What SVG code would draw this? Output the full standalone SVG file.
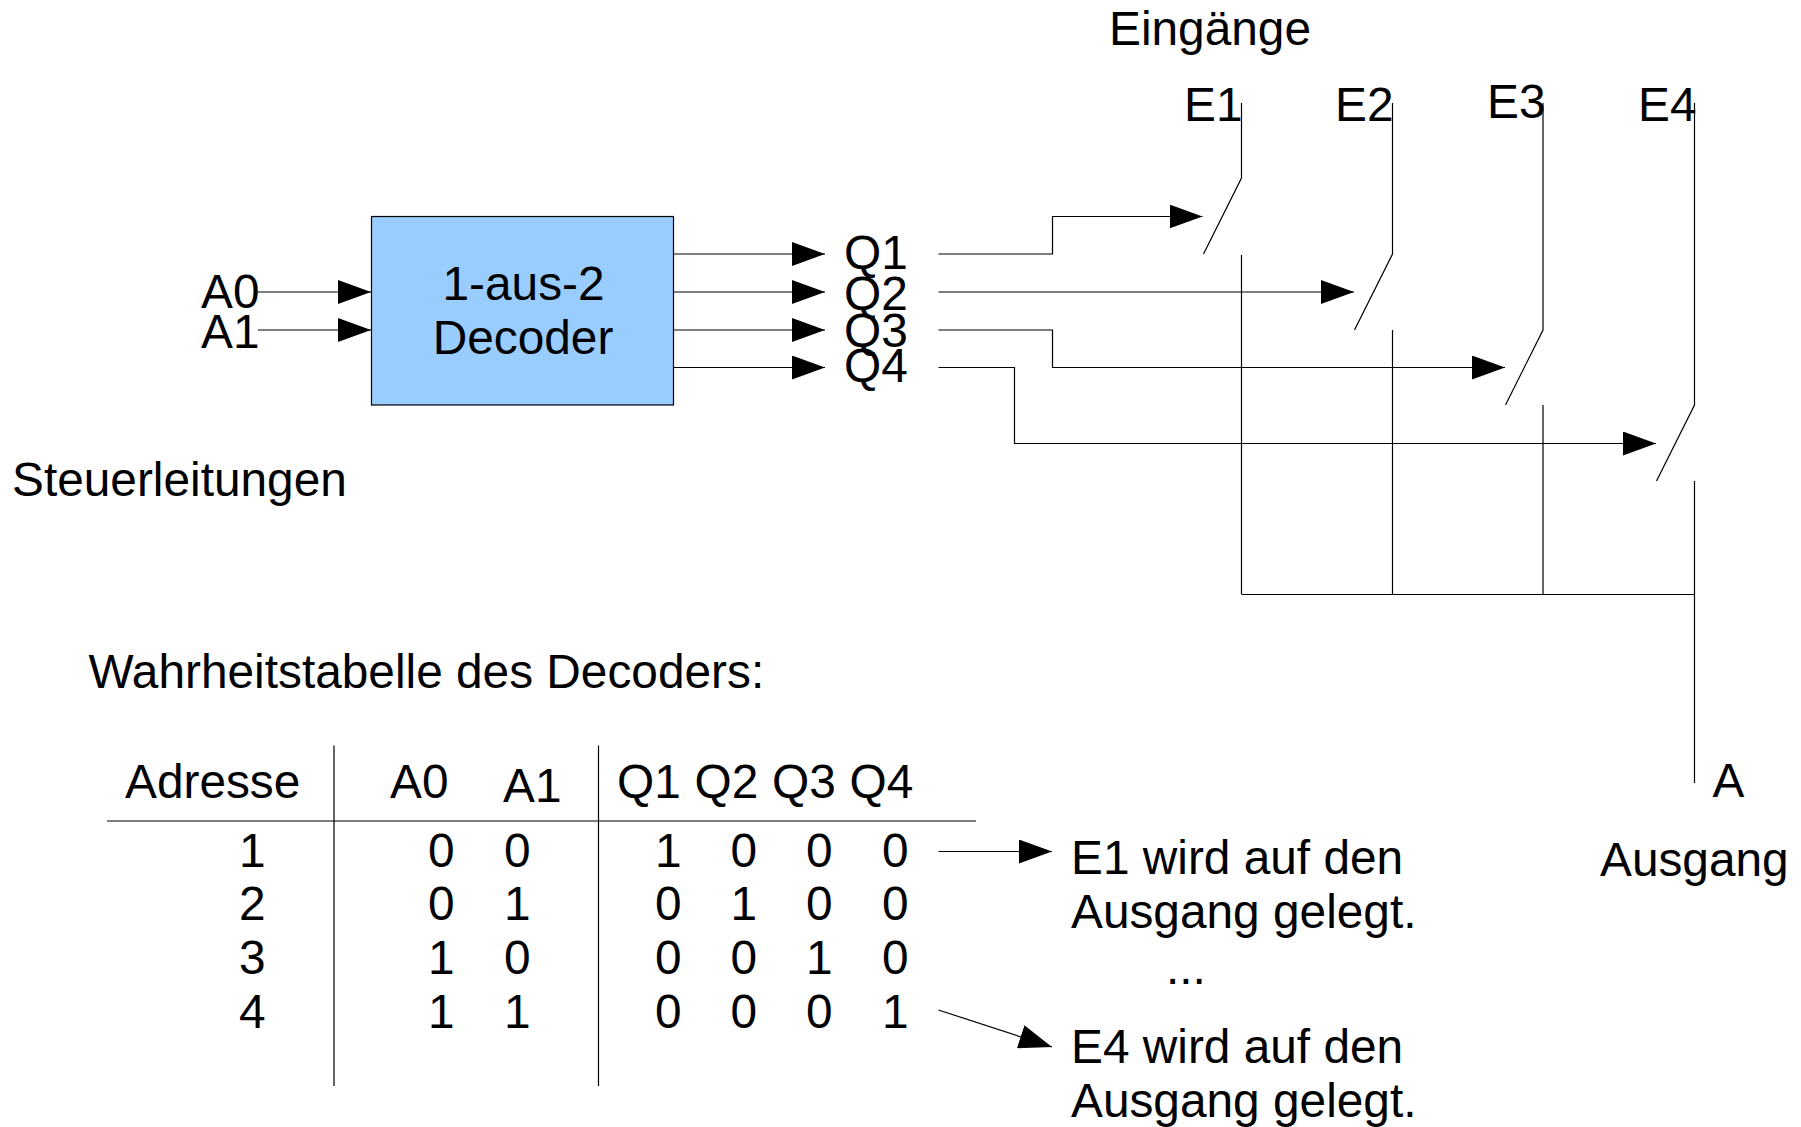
<svg xmlns="http://www.w3.org/2000/svg" width="1801" height="1127" viewBox="0 0 1801 1127">
<style>
text{font-family:"Liberation Sans",Arial,sans-serif;font-size:47.8px;fill:#000}
.m{text-anchor:middle}
.l{fill:none;stroke:#000;stroke-width:1.2}
.a{marker-end:url(#arrow)}
</style>
<defs><marker id="arrow" markerUnits="userSpaceOnUse" markerWidth="34" markerHeight="24" refX="33" refY="12" orient="auto"><path d="M0 0L33 12L0 24Z" fill="#000"/></marker></defs>
<rect width="1801" height="1127" fill="#fff"/>
<g id="connectors">
<path class="l a" d="M258 292H371"/>
<path class="l a" d="M258 330H371"/>
<path class="l a" d="M674 254H825"/>
<path class="l a" d="M674 292H825"/>
<path class="l a" d="M674 330H825"/>
<path class="l a" d="M674 367.500H825"/>
<path class="l a" d="M938.500 254H1052.500V216.500H1202.500"/>
<path class="l a" d="M938.500 292H1354"/>
<path class="l a" d="M938.500 330H1052.500V367.500H1505"/>
<path class="l a" d="M938.500 367.500H1014.500V443.500H1656"/>
<path class="l a" d="M938.500 851.500H1052"/>
<path class="l a" d="M938.500 1010L1052 1047"/>
</g>
<g id="decoder"><rect x="371.500" y="216.500" width="302" height="188.500" fill="#99ccff" stroke="#000" stroke-width="1.2"/>
<text class="m" x="523.500" y="300">1-aus-2</text><text class="m" x="523" y="354">Decoder</text></g>
<g id="switch-e1"><path class="l" d="M1241.500 103V178L1203.500 254M1241.500 255V594"/><text x="1184" y="121">E1</text></g>
<g id="switch-e2"><path class="l" d="M1392.500 103V254L1354.500 330M1392.500 330V594"/><text x="1335" y="121">E2</text></g>
<g id="switch-e3"><path class="l" d="M1543 103V330L1505.500 405M1543 405V594"/><text x="1487" y="118">E3</text></g>
<g id="switch-e4"><path class="l" d="M1694.500 103V405L1656.500 481M1694.500 481V783"/><text x="1638" y="121">E4</text></g>
<g id="bus"><path class="l" d="M1241.500 594.500H1694.500"/></g>
<g id="control-labels">
<text x="201" y="308">A0</text><text x="201" y="348">A1</text>
<text x="12" y="496">Steuerleitungen</text>
<text x="844" y="269">Q1</text><text x="844" y="310">Q2</text><text x="844" y="347">Q3</text><text x="844" y="382">Q4</text>
<text x="1109" y="45">Eingänge</text>
<text x="1712.500" y="797">A</text><text x="1600" y="876">Ausgang</text>
</g>
<g id="truth-table">
<text x="88.500" y="688">Wahrheitstabelle des Decoders:</text>
<path class="l" d="M334 745.500V1086M598.500 745.500V1086M107 821H976"/>
<text x="125" y="798">Adresse</text><text x="390" y="798">A0</text><text x="503" y="802">A1</text>
<text x="617" y="798">Q1</text><text x="694.500" y="798">Q2</text><text x="772" y="798">Q3</text><text x="849.500" y="798">Q4</text>
<text x="239" y="867">1</text><text x="428" y="867">0</text><text x="504" y="867">0</text><text x="655" y="867">1</text><text x="730.500" y="867">0</text><text x="806" y="867">0</text><text x="882" y="867">0</text>
<text x="239" y="920">2</text><text x="428" y="920">0</text><text x="504" y="920">1</text><text x="655" y="920">0</text><text x="730.500" y="920">1</text><text x="806" y="920">0</text><text x="882" y="920">0</text>
<text x="239" y="974">3</text><text x="428" y="974">1</text><text x="504" y="974">0</text><text x="655" y="974">0</text><text x="730.500" y="974">0</text><text x="806" y="974">1</text><text x="882" y="974">0</text>
<text x="239" y="1028">4</text><text x="428" y="1028">1</text><text x="504" y="1028">1</text><text x="655" y="1028">0</text><text x="730.500" y="1028">0</text><text x="806" y="1028">0</text><text x="882" y="1028">1</text>
</g>
<g id="notes">
<text x="1071" y="874">E1 wird auf den</text><text x="1071" y="928">Ausgang gelegt.</text>
<text x="1166" y="984">...</text>
<text x="1071" y="1063">E4 wird auf den</text><text x="1071" y="1117">Ausgang gelegt.</text>
</g>
</svg>
